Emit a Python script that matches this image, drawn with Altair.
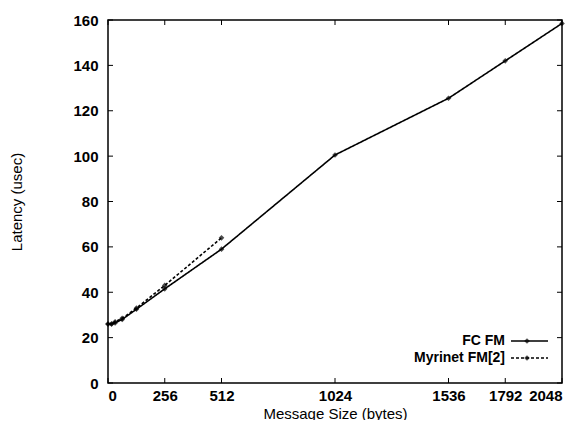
import altair as alt
import pandas as pd

fc_x = [0, 16, 32, 64, 128, 256, 512, 1024, 1536, 1792, 2048]
fc_y = [26, 26, 26.5, 28, 32.5, 41.5, 59, 100.5, 125.5, 142, 158.5]
my_x = [0, 16, 32, 64, 128, 256, 512]
my_y = [26, 26, 27, 28.5, 33, 43, 64]

series = ["FC FM", "Myrinet FM[2]"]
x_ticks = [0, 256, 512, 1024, 1536, 1792, 2048]
y_ticks = [0, 20, 40, 60, 80, 100, 120, 140, 160]

W, H = 454, 363
FONT = "Liberation Sans"

df = pd.DataFrame(
    [{"x": a, "y": b, "s": series[0]} for a, b in zip(fc_x, fc_y)]
    + [{"x": a, "y": b, "s": series[1]} for a, b in zip(my_x, my_y)]
)

xs = alt.Scale(domain=[0, 2048], nice=False, zero=False)
ys = alt.Scale(domain=[0, 160], nice=False)
dash = alt.Scale(domain=series, range=[[1, 0], [3, 2]])

xax = alt.Axis(values=x_ticks, format="d", ticks=False, domain=False, grid=False, labelFontSize=15,
               labelFont=FONT, labelFontWeight="bold", labelColor="black", labelPadding=5,
               title="Message Size (bytes)", titleFont=FONT, titleFontSize=15,
               titleFontWeight="normal", titleColor="black", titlePadding=3)
yax = alt.Axis(values=y_ticks, ticks=False, domain=False, grid=False, labelFontSize=15,
               labelFont=FONT, labelFontWeight="bold", labelColor="black", labelPadding=10,
               title="Latency (usec)", titleFont=FONT, titleFontSize=15,
               titleFontWeight="normal", titleColor="black", titlePadding=48)

base = alt.Chart(df)
lines = base.mark_line(color="black", strokeWidth=1.6).encode(
    x=alt.X("x:Q", scale=xs, axis=xax),
    y=alt.Y("y:Q", scale=ys, axis=yax),
    strokeDash=alt.StrokeDash("s:N", scale=dash, legend=None),
    detail="s:N",
)
pts = base.mark_point(shape="diamond", filled=True, color="black", size=32).encode(
    x=alt.X("x:Q", scale=xs), y=alt.Y("y:Q", scale=ys))

xt = pd.DataFrame({"t": x_ticks})
yt = pd.DataFrame({"t": y_ticks})
xb = alt.Chart(xt).mark_rule(color="black", strokeWidth=1).encode(
    x=alt.X("t:Q", scale=xs), y=alt.value(H), y2=alt.value(H - 5))
xtp = alt.Chart(xt).mark_rule(color="black", strokeWidth=1).encode(
    x=alt.X("t:Q", scale=xs), y=alt.value(0), y2=alt.value(5))
yl = alt.Chart(yt).mark_rule(color="black", strokeWidth=1).encode(
    y=alt.Y("t:Q", scale=ys), x=alt.value(0), x2=alt.value(5))
yr = alt.Chart(yt).mark_rule(color="black", strokeWidth=1).encode(
    y=alt.Y("t:Q", scale=ys), x=alt.value(W), x2=alt.value(W - 5))

legend_layers = []
for i, (name, ypos) in enumerate(zip(series, [321, 338])):
    ld = pd.DataFrame({"s": [name]})
    legend_layers.append(alt.Chart(ld).mark_text(
        align="right", baseline="middle", font=FONT, fontSize=14, fontWeight="bold",
        color="black").encode(text="s:N", x=alt.value(397), y=alt.value(ypos)))
    legend_layers.append(alt.Chart(ld).mark_rule(
        color="black", strokeWidth=1.6, strokeDash=[1, 0] if i == 0 else [3, 2]).encode(
        x=alt.value(403), x2=alt.value(440), y=alt.value(ypos)))
    legend_layers.append(alt.Chart(ld).mark_point(
        shape="diamond", filled=True, color="black", size=32).encode(
        x=alt.value(419), y=alt.value(ypos)))

chart = alt.layer(lines, pts, xb, xtp, yl, yr, *legend_layers).properties(
    width=W, height=H,
    padding={"left": 100, "top": 12, "right": 12, "bottom": 37},
    autosize=alt.AutoSizeParams(type="none"),
    background="white",
).configure_view(stroke="black", strokeWidth=1.5)

chart.save("out.html", embed_options={"renderer": "svg", "actions": False})
